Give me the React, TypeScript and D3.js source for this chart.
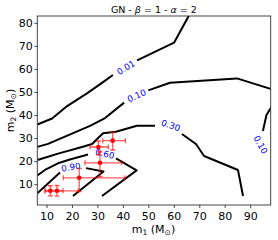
import React from "react";
import * as d3 from "d3";

const W = 278;
const H = 240;
const M = { left: 37.3, right: 7.3, top: 16, bottom: 35 };

const xTicks = [10, 20, 30, 40, 50, 60, 70, 80, 90];
const yTicks = [10, 20, 30, 40, 50, 60, 70, 80];

// contour pieces (m1, m2), broken where the inline labels sit
const contour001 = [
  [[6.2, 36.1], [12.0, 38.7], [17.9, 44.1], [25.7, 49.6], [32.0, 54.5], [35.9, 57.6]],
  [[45.4, 63.9], [59.9, 71.6], [65.7, 83.3]],
];
const contour010 = [
  [[6.2, 26.4], [10.4, 27.7], [17.5, 31.1], [26.9, 35.5], [32.8, 38.9], [40.3, 45.6]],
  [[49.8, 50.9], [58.3, 54.2], [84.6, 56.1], [98.2, 51.4]],
  [[98.5, 44.4], [96.2, 40.2], [94.8, 33.3]],
];
const contour030 = [
  [[6.2, 20.7], [10.4, 22.1], [14.7, 23.6], [24.1, 26.5], [27.7, 27.65], [32.0, 32.3], [37.1, 33.0], [45.3, 35.6], [52.4, 35.6]],
  [[63.0, 32.0], [68.5, 27.65], [71.7, 22.45], [85.0, 16.4], [87.0, 5.1]],
];
const contour060 = [
  [[6.2, 14.0], [9.2, 16.4], [14.3, 19.3], [19.0, 20.9], [26.1, 23.1]],
  [[37.1, 21.4], [45.2, 16.2], [31.6, 5.1]],
];
const contour090 = [
  [[6.2, 6.3], [15.1, 15.3]],
  [[25.3, 17.2], [32.2, 15.7], [20.2, 5.1]],
];
const contours = [contour001, contour010, contour030, contour060, contour090];

const labelTexts = ["0.01", "0.10", "0.30", "0.60", "0.90", "0.10"];
const labelM1 = [41.0, 45.2, 58.6, 32.7, 19.4, 93.9];
const labelM2 = [60.8, 48.6, 35.7, 23.4, 17.6, 27.4];
const labelAngle = [-31, -24, 19, 13, -9, 60];

// events
const eventNames = ["GW150914", "GW170814", "GW170104", "LVT151012", "GW151226", "GW170608"];
const evM1 = [35.8, 30.2, 30.8, 22.65, 13.9, 11.3];
const evM2 = [29.1, 26.35, 19.5, 13.0, 7.35, 7.35];
const evM1Lo = [3.9, 3.3, 5.9, 6.25, 4.7, 2.1];
const evM1Hi = [4.95, 3.9, 8.5, 17.95, 8.4, 5.0];
const evM2Lo = [4.05, 3.45, 6.0, 6.0, 2.3, 2.2];
const evM2Hi = [3.6, 2.6, 4.8, 4.1, 2.3, 2.2];

export default function App() {
  const x = d3.scaleLinear().domain([6.19, 97.86]).range([M.left, W - M.right]);
  const y = d3.scaleLinear().domain([1.2, 83.17]).range([H - M.bottom, M.top]);
  const line = d3
    .line<number[]>()
    .x((d) => x(d[0]))
    .y((d) => y(d[1]));
  const font = "DejaVu Sans, sans-serif";
  const cap = 2.5;

  return (
    <svg
      width={W}
      height={H}
      style={{ position: "absolute", left: 0, top: 0, background: "#fff" }}
      fontFamily={font}
    >
      <defs>
        <clipPath id="plot">
          <rect x={M.left} y={M.top} width={W - M.left - M.right} height={H - M.top - M.bottom} />
        </clipPath>
      </defs>
      <rect width={W} height={H} fill="#fff" />
      <g clipPath="url(#plot)">
        {contours.map((pieces, i) =>
          pieces.map((p, j) => (
            <path
              key={`c${i}-${j}`}
              d={line(p) || ""}
              fill="none"
              stroke="#000"
              strokeWidth={2}
              strokeLinejoin="round"
            />
          ))
        )}
        {labelTexts.map((t, i) => (
          <text
            key={`l${i}`}
            transform={`translate(${x(labelM1[i])},${y(labelM2[i])}) rotate(${labelAngle[i]})`}
            textAnchor="middle"
            dominantBaseline="central"
            fontSize={8.7}
            fill="#0000ff"
          >
            {t}
          </text>
        ))}
        {eventNames.map((n, i) => {
          const cx = x(evM1[i]);
          const cy = y(evM2[i]);
          const x0 = x(evM1[i] - evM1Lo[i]);
          const x1 = x(evM1[i] + evM1Hi[i]);
          const y0 = y(evM2[i] - evM2Lo[i]);
          const y1 = y(evM2[i] + evM2Hi[i]);
          return (
            <g key={n} stroke="#ff0000" strokeOpacity={0.65} strokeWidth={1.3}>
              <line x1={x0} x2={x1} y1={cy} y2={cy} />
              <line x1={cx} x2={cx} y1={y0} y2={y1} />
              <line x1={x0} x2={x0} y1={cy - cap} y2={cy + cap} />
              <line x1={x1} x2={x1} y1={cy - cap} y2={cy + cap} />
              <line x1={cx - cap} x2={cx + cap} y1={y0} y2={y0} />
              <line x1={cx - cap} x2={cx + cap} y1={y1} y2={y1} />
              <circle cx={cx} cy={cy} r={2.3} fill="#ff0000" stroke="none" />
            </g>
          );
        })}
      </g>
      <rect
        x={M.left}
        y={M.top}
        width={W - M.left - M.right}
        height={H - M.top - M.bottom}
        fill="none"
        stroke="#333"
        strokeWidth={0.9}
      />
      {xTicks.map((t) => (
        <g key={`xt${t}`}>
          <line x1={x(t)} x2={x(t)} y1={H - M.bottom} y2={H - M.bottom + 3} stroke="#333" strokeWidth={0.9} />
          <text x={x(t)} y={220} textAnchor="middle" fontSize={11} fill="#000">
            {t}
          </text>
        </g>
      ))}
      {yTicks.map((t) => (
        <g key={`yt${t}`}>
          <line x1={M.left - 3} x2={M.left} y1={y(t)} y2={y(t)} stroke="#333" strokeWidth={0.9} />
          <text x={M.left - 4.5} y={y(t)} textAnchor="end" dominantBaseline="central" fontSize={11} fill="#000">
            {t}
          </text>
        </g>
      ))}
      <text x={153.8} y={13} textAnchor="middle" fontSize={9.5} fill="#000">
        GN - <tspan fontStyle="italic">β</tspan> = 1 - <tspan fontStyle="italic">α</tspan> = 2
      </text>
      <text x={153.5} y={233} textAnchor="middle" fontSize={11} fill="#000">
        m<tspan fontSize={7.5} dy={2}>1</tspan>
        <tspan dy={-2}> (M</tspan>
        <tspan fontSize={7.5} dy={2}>⊙</tspan>
        <tspan dy={-2}>)</tspan>
      </text>
      <text transform={`translate(14,110.5) rotate(-90)`} textAnchor="middle" fontSize={11} fill="#000">
        m<tspan fontSize={7.5} dy={2}>2</tspan>
        <tspan dy={-2}> (M</tspan>
        <tspan fontSize={7.5} dy={2}>⊙</tspan>
        <tspan dy={-2}>)</tspan>
      </text>
    </svg>
  );
}
